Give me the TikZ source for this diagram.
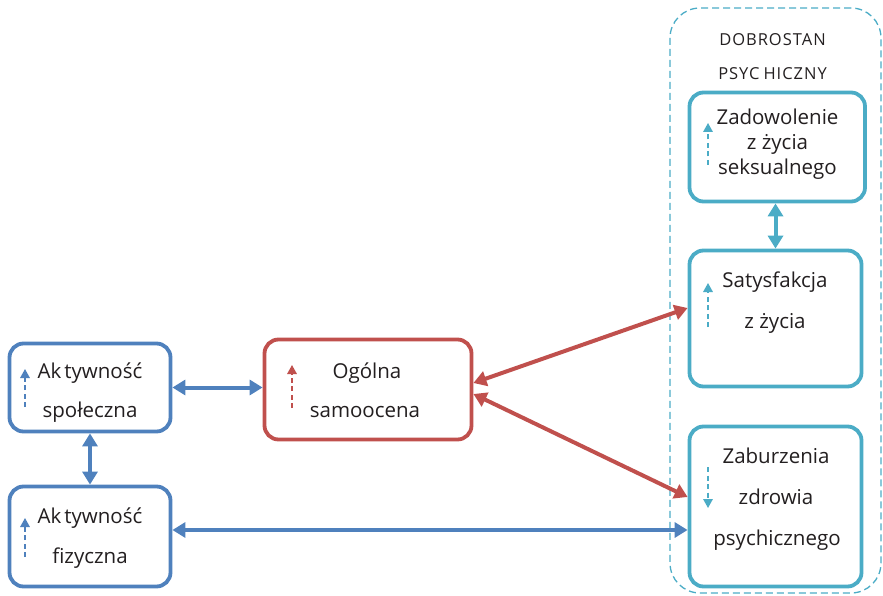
\documentclass[tikz,border=0pt]{standalone}
\usepackage{fontspec}
\setmainfont{Open Sans}
\usetikzlibrary{arrows.meta,calc}
\definecolor{cblue}{HTML}{4F81BD}
\definecolor{cred}{HTML}{C0504D}
\definecolor{cteal}{HTML}{4BACC6}
\definecolor{ctext}{HTML}{231F20}
\begin{document}
\begin{tikzpicture}[x=1pt,y=-1pt,
  box/.style={draw=#1,line width=3.8pt,rounded corners=14pt,inner sep=0pt,fill=white},
  lbl/.style={anchor=base,inner sep=0pt,text=ctext,font=\fontsize{20.5}{24}\selectfont},
  hdr/.style={anchor=base,inner sep=0pt,text=ctext,font=\fontsize{16.5}{19}\selectfont\addfontfeatures{LetterSpace=6}},
  big/.style={draw=#1,line width=4pt,{Triangle[length=13pt,width=15pt]}-{Triangle[length=13pt,width=15pt]}},
  small/.style={draw=#1,line width=1.6pt,dash pattern=on 5pt off 3.5pt,-{Triangle[length=9pt,width=9.5pt]}}]
\useasboundingbox (0,0) rectangle (883,596);

% container
\node[draw=cteal,line width=1.3pt,dash pattern=on 7pt off 4pt,rounded corners=30pt,
      minimum width=211pt,minimum height=585pt,inner sep=0pt] (well) at (775.5,300.5) {};

% boxes
\node[box=cblue,minimum width=161pt,minimum height=88pt] (spol) at (90,387.5) {};
\node[box=cblue,minimum width=161pt,minimum height=100pt] (fiz) at (90,536.5) {};
\node[box=cred,minimum width=207pt,minimum height=100pt] (ogol) at (368,389.5) {};
\node[box=cteal,minimum width=175.5pt,minimum height=109pt] (zad) at (777.25,147) {};
\node[box=cteal,minimum width=172pt,minimum height=136pt] (sat) at (775.5,318.5) {};
\node[box=cteal,minimum width=172pt,minimum height=160pt] (zab) at (775.5,506.5) {};

% texts
\node[lbl] (spolA) at (90,378) {Ak\kern3pt tywność};
\node[lbl] (spolB) at (90,417) {społeczna};
\node[lbl] (fizA) at (90,523) {Ak\kern3pt tywność};
\node[lbl] (fizB) at (90,563) {fizyczna};
\node[lbl] (ogolA) at (367,378) {Ogólna};
\node[lbl] (ogolB) at (365,417) {samoocena};
\node[hdr] (hdrA) at (772.5,45.5) {DOBROSTAN};
\node[hdr] (hdrB) at (772.5,80) {PSYC\kern4pt HICZNY};
\node[lbl] (zadA) at (777.5,125) {Zadowolenie};
\node[lbl] (zadB) at (777.5,150) {z życia};
\node[lbl] (zadC) at (777.5,175) {seksualnego};
\node[lbl] (satA) at (775,287) {Satysfakcja};
\node[lbl] (satB) at (775,328) {z życia};
\node[lbl] (zabA) at (776,463) {Zaburzenia};
\node[lbl] (zabB) at (776,504) {zdrowia};
\node[lbl] (zabC) at (777,545) {psychicznego};

% helper coordinates
\coordinate (y530) at (0,530);
\coordinate (r1) at (0,383);
\coordinate (r2) at (0,308);
\coordinate (r3) at (0,394);
\coordinate (r4) at (0,497);

% connectors
\draw[big=cblue] (spol.east) -- (spol.east -| ogol.west);
\draw[big=cblue] (spol.south) -- (fiz.north);
\draw[big=cblue] (fiz.east |- y530) -- (zab.west |- y530);
\draw[big=cred] (ogol.east |- r1) -- (sat.west |- r2);
\draw[big=cred] (ogol.east |- r3) -- (zab.west |- r4);
\draw[big=cteal] (sat.north |- zad.south) -- (sat.north);

% small dashed indicator arrows
\draw[small=cblue] (25,407) -- (25,369);
\draw[small=cblue] (25,557) -- (25,518);
\draw[small=cred] (292,408) -- (292,365);
\draw[small=cteal] (708,165) -- (708,123);
\draw[small=cteal] (708,327) -- (708,283);
\draw[small=cteal] (708,467) -- (708,508);
\end{tikzpicture}
\end{document}
